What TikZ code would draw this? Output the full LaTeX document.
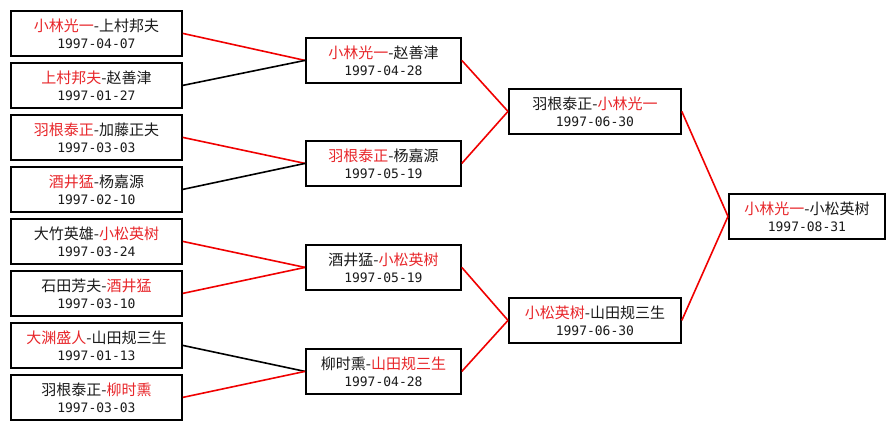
\documentclass[tikz,border=0pt]{standalone}
\usepackage{fontspec}
\setmainfont{Noto Sans CJK SC}
\newfontfamily\datefont{DejaVu Sans Mono}
\usepackage{tikz}
\usetikzlibrary{positioning}
\definecolor{WinRed}{HTML}{E8262A}
\definecolor{LineRed}{HTML}{F00000}
\definecolor{TextDark}{HTML}{1A1A1A}
\newcommand{\wn}[1]{\textcolor{WinRed}{#1}}
\newcommand{\matchdate}[1]{{\datefont\fontsize{13}{17}\selectfont #1}}

\begin{document}
\begin{tikzpicture}[x=1pt,y=-1pt,
    every node/.style={font=\fontsize{15}{17}\selectfont, text=TextDark},
    game/.style={draw=black, line width=1.8pt, anchor=north west,
                 minimum height=45pt, inner sep=0pt, align=center},
    win/.style={LineRed, line width=1.6pt},
    lose/.style={black, line width=1.6pt}]
  \fill[white] (0,0) rectangle (894,429);
  \useasboundingbox (0,0) rectangle (894,429);
  % first round
  \node[game, minimum width=171pt] (m1) at (10,10)
    {\wn{小林光一}-上村邦夫\\\matchdate{1997-04-07}};
  \node[game, minimum width=171pt] (m2) at (10,62)
    {\wn{上村邦夫}-赵善津\\\matchdate{1997-01-27}};
  \node[game, minimum width=171pt] (m3) at (10,114)
    {\wn{羽根泰正}-加藤正夫\\\matchdate{1997-03-03}};
  \node[game, minimum width=171pt] (m4) at (10,166)
    {\wn{酒井猛}-杨嘉源\\\matchdate{1997-02-10}};
  \node[game, minimum width=171pt] (m5) at (10,218)
    {大竹英雄-\wn{小松英树}\\\matchdate{1997-03-24}};
  \node[game, minimum width=171pt] (m6) at (10,270)
    {石田芳夫-\wn{酒井猛}\\\matchdate{1997-03-10}};
  \node[game, minimum width=171pt] (m7) at (10,322)
    {\wn{大渊盛人}-山田规三生\\\matchdate{1997-01-13}};
  \node[game, minimum width=171pt] (m8) at (10,374)
    {羽根泰正-\wn{柳时熏}\\\matchdate{1997-03-03}};
  % second round
  \node[game, minimum width=155pt] (s1) at (305,37)
    {\wn{小林光一}-赵善津\\\matchdate{1997-04-28}};
  \node[game, minimum width=155pt] (s2) at (305,140)
    {\wn{羽根泰正}-杨嘉源\\\matchdate{1997-05-19}};
  \node[game, minimum width=155pt] (s3) at (305,244)
    {酒井猛-\wn{小松英树}\\\matchdate{1997-05-19}};
  \node[game, minimum width=155pt] (s4) at (305,348)
    {柳时熏-\wn{山田规三生}\\\matchdate{1997-04-28}};
  % semi-finals
  \node[game, minimum width=172pt] (f1) at (508,88)
    {羽根泰正-\wn{小林光一}\\\matchdate{1997-06-30}};
  \node[game, minimum width=172pt] (f2) at (508,297)
    {\wn{小松英树}-山田规三生\\\matchdate{1997-06-30}};
  % final
  \node[game, minimum width=156pt] (w) at (728,193)
    {\wn{小林光一}-小松英树\\\matchdate{1997-08-31}};
  \draw[win](m1.east)--(s1.west); \draw[lose](m2.east)--(s1.west);
  \draw[win](m3.east)--(s2.west); \draw[lose](m4.east)--(s2.west);
  \draw[win](m5.east)--(s3.west); \draw[win](m6.east)--(s3.west);
  \draw[lose](m7.east)--(s4.west); \draw[win](m8.east)--(s4.west);
  \draw[win](s1.east)--(f1.west); \draw[win](s2.east)--(f1.west);
  \draw[win](s3.east)--(f2.west); \draw[win](s4.east)--(f2.west);
  \draw[win](f1.east)--(w.west); \draw[win](f2.east)--(w.west);
\end{tikzpicture}
\end{document}
